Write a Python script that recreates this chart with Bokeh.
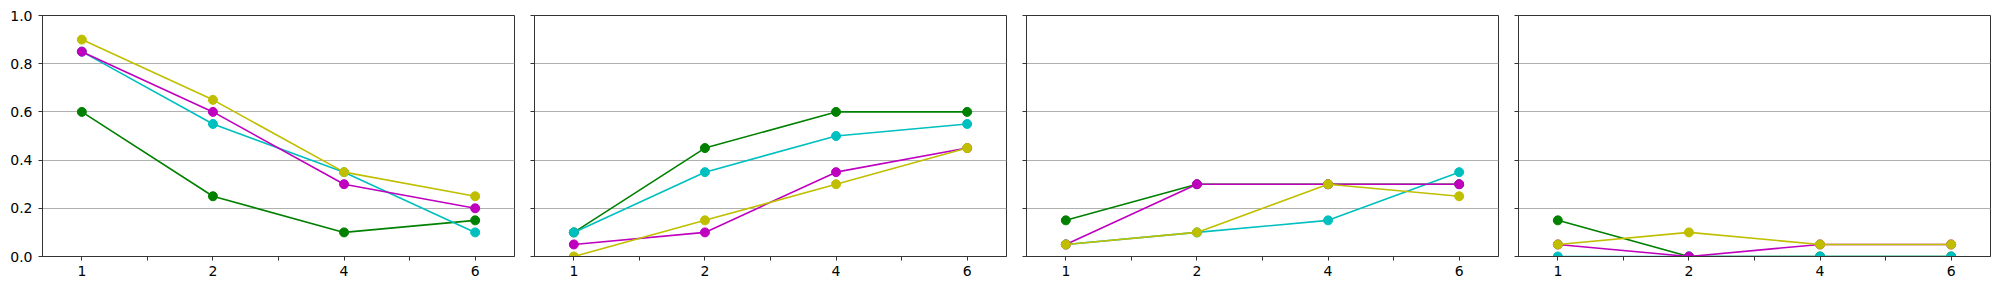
from bokeh.plotting import figure
from bokeh.layouts import row
from bokeh.models import FixedTicker, PrintfTickFormatter, Range1d
from bokeh.embed import file_html
from bokeh.resources import INLINE

x_labels = ["1", "2", "4", "6"]
series_names = ["green", "cyan", "magenta", "yellow"]
series_colors = ["#008000", "#00bfbf", "#bf00bf", "#bfbf00"]

panel1 = {
    "green":   [0.60, 0.25, 0.10, 0.15],
    "cyan":    [0.85, 0.55, 0.35, 0.10],
    "magenta": [0.85, 0.60, 0.30, 0.20],
    "yellow":  [0.90, 0.65, 0.35, 0.25],
}
panel2 = {
    "green":   [0.10, 0.45, 0.60, 0.60],
    "cyan":    [0.10, 0.35, 0.50, 0.55],
    "magenta": [0.05, 0.10, 0.35, 0.45],
    "yellow":  [0.00, 0.15, 0.30, 0.45],
}
panel3 = {
    "green":   [0.15, 0.30, 0.30, 0.30],
    "cyan":    [0.05, 0.10, 0.15, 0.35],
    "magenta": [0.05, 0.30, 0.30, 0.30],
    "yellow":  [0.05, 0.10, 0.30, 0.25],
}
panel4 = {
    "green":   [0.15, 0.00, 0.00, 0.00],
    "cyan":    [0.00, 0.00, 0.00, 0.00],
    "magenta": [0.05, 0.00, 0.05, 0.05],
    "yellow":  [0.05, 0.10, 0.05, 0.05],
}
panels = [panel1, panel2, panel3, panel4]
y_ticks = [0.0, 0.2, 0.4, 0.6, 0.8, 1.0]

FONT = "DejaVu Sans"
xs = list(range(len(x_labels)))

figs = []
for i, pdata in enumerate(panels):
    p = figure(
        frame_width=472, frame_height=241,
        x_range=Range1d(-0.3, len(x_labels) - 1 + 0.3),
        y_range=Range1d(0, 1),
        output_backend="svg", toolbar_location=None,
        min_border_left=42 if i == 0 else 18,
        min_border_right=2, min_border_top=15, min_border_bottom=30,
        background_fill_color="white", border_fill_color="white",
    )
    p.outline_line_color = "#333333"
    p.outline_line_width = 1
    p.xgrid.visible = False
    p.ygrid.ticker = FixedTicker(ticks=[0.2, 0.4, 0.6, 0.8])
    p.ygrid.grid_line_color = "#b0b0b0"
    p.ygrid.grid_line_width = 1

    p.xaxis.ticker = FixedTicker(ticks=xs, minor_ticks=[0.5, 1.5, 2.5])
    p.xaxis.major_label_overrides = {k: lab for k, lab in zip(xs, x_labels)}
    p.yaxis.ticker = FixedTicker(ticks=y_ticks)
    p.yaxis.formatter = PrintfTickFormatter(format="%.1f")
    if i > 0:
        p.yaxis.major_label_overrides = {t: "" for t in y_ticks}
    for ax in (p.xaxis[0], p.yaxis[0]):
        ax.axis_line_color = "#333333"
        ax.major_tick_line_color = "#333333"
        ax.minor_tick_line_color = "#333333"
        ax.major_tick_in = 0
        ax.major_tick_out = 4
        ax.minor_tick_in = 0
        ax.minor_tick_out = 0
        ax.major_label_text_font = FONT
        ax.major_label_text_font_size = "14px"
        ax.major_label_text_color = "black"
    p.xaxis.minor_tick_out = 4
    p.xaxis.major_label_standoff = 5
    p.yaxis.major_label_standoff = 6

    for name, color in zip(series_names, series_colors):
        ys = pdata[name]
        p.line(xs, ys, line_color=color, line_width=1.6)
        p.scatter(xs, ys, marker="circle", size=9, fill_color=color, line_color=color)
    figs.append(p)

layout = row(*figs)
open("out.html", "w").write(file_html(layout, INLINE))
